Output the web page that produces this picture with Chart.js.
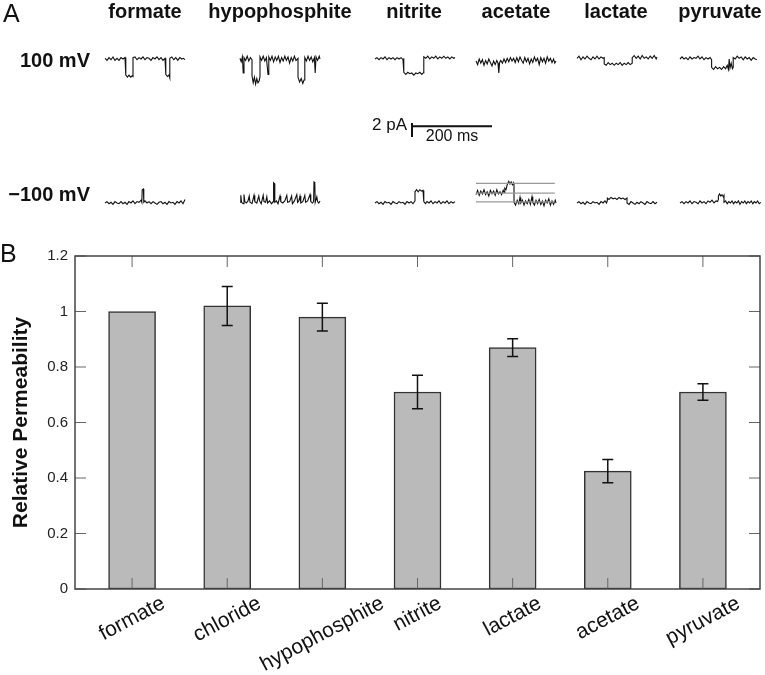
<!DOCTYPE html>
<html>
<head>
<meta charset="utf-8">
<script src="https://cdn.jsdelivr.net/npm/chart.js@4/dist/chart.umd.min.js"></script>
<style>
  body { margin: 0; background: #fff; }
  #wrap { position: relative; width: 765px; height: 675px; font-family: "Liberation Sans", Arial, sans-serif; color: #111; }
  canvas { position: absolute; left: 0; top: 0; }
  .t { position: absolute; line-height: 1; white-space: nowrap; }
  .b { font-weight: bold; }
</style>
</head>
<body>
<div id="wrap">
  <canvas id="permChart" width="765" height="675"></canvas>
  <canvas id="traceChart" width="765" height="230"></canvas>
</div>
<script>
// ---- panel B data ----
const anions = ['formate', 'chloride', 'hypophosphite', 'nitrite', 'lactate', 'acetate', 'pyruvate'];
const permeability = [1.0, 1.02, 0.98, 0.71, 0.87, 0.425, 0.71];
const permError = [0, 0.07, 0.05, 0.06, 0.032, 0.042, 0.03];
const yTicks = [0, 0.2, 0.4, 0.6, 0.8, 1, 1.2];

// ---- panel A data: single-channel traces, [time ms, current pA] ----
const traceNames = ['formate', 'hypophosphite', 'nitrite', 'acetate', 'lactate', 'pyruvate'];
const rowLabels = ['100 mV', '\u2212100 mV'];

const formateUp = [[0,0.1],[5,-0.2],[10,0.2],[15,-0.1],[20,0.3],[25,-0.2],[30,0.1],[35,-0.2],[40,0.2],[45,0],[50,0.2],[52,-0.1],
  [52,-2.3],[56,-2.6],[60,-2.3],[64,-2.6],[68,-2.4],[70,-2.5],
  [70,0.2],[75,0.3],[80,-0.1],[85,0.2],[90,0],[95,0.3],[100,-0.1],[105,0.2],[110,0.1],[115,-0.2],[120,0.2],[125,0],[130,0.3],[135,-0.1],[140,0.2],[145,-0.2],[150,0.1],[152,0],
  [152,-2.2],[156,-2.5],[160,-2.3],[162,-2.7],
  [162,0.1],[167,0.3],[172,-0.1],[177,0.2],[182,-0.2],[187,0.2],[192,0],[196,0.1],[200,-0.1]];
const hypoUp = [[0,0.1],[3,-0.4],[6,0.3],[8,-2.0],[10,0.2],[14,-0.2],[18,0.4],[22,-0.3],[26,0.2],[30,-0.1],
  [30,-2.4],[33,-3.4],[36,-2.6],[39,-3.6],[42,-2.8],[45,-3.4],[48,-3.1],[50,-2.5],
  [50,0.3],[54,-0.2],[58,0.4],[62,-0.3],[66,0.2],[70,-2.2],[72,0.3],[76,-0.2],[80,0.4],[84,-0.4],[88,0.3],[92,-0.2],[96,0.4],[100,-0.5],[104,0.2],[108,-0.3],[112,0.4],[116,-0.2],[120,0.3],[124,-0.6],[128,0.2],[132,-0.3],[136,0.4],[140,-0.2],[145,0.1],
  [145,-2.6],[149,-3.3],[153,-2.8],[157,-3.5],[160,-3.0],[162,-2.2],
  [162,0.2],[166,-0.3],[170,0.4],[174,-0.2],[178,0.3],[182,-0.4],[186,0.2],[188,-2.0],[190,0.3],[194,-0.2],[198,0.4],[200,0]];
const nitriteUp = [[0,0],[5,0.2],[10,-0.1],[15,0.2],[20,0],[25,0.3],[30,-0.1],[35,0.2],[40,0],[45,0.2],[50,-0.1],[55,0.2],[60,0],[65,0.2],[70,-0.1],[72,0.1],
  [72,-1.9],[77,-2.2],[82,-1.9],[87,-2.1],[92,-2.0],[97,-2.3],[102,-2.0],[107,-2.1],[112,-1.9],[117,-2.2],[120,-2.0],[122,-1.5],
  [122,0.3],[127,0.1],[132,0.4],[137,0],[142,0.3],[147,0.1],[152,0.4],[157,0],[162,0.3],[167,0.1],[172,0.4],[177,0.1],[182,0.3],[187,0],[192,0.3],[197,0.1],[200,0.2]];
const acetateUp = [[0,-0.3],[4,-0.8],[8,0],[12,-0.6],[16,-0.1],[20,-0.9],[24,-0.2],[28,-0.7],[32,0],[36,-0.5],[40,-1.0],[44,-0.3],[48,-0.8],[52,-0.2],[55,-0.6],[57,-2.0],[59,-0.5],[62,-0.2],[66,-0.6],[70,0],[74,-0.5],[78,0.1],[82,-0.4],[86,0.2],[90,-0.3],[94,0.1],[98,-0.5],[102,0.2],[106,-0.4],[110,0.3],[114,-0.2],[118,-0.6],[122,0.2],[126,-0.4],[130,0.1],[134,-0.7],[138,0],[142,-0.5],[146,0.3],[150,-0.3],[154,0.1],[158,-0.8],[162,0.2],[166,-0.4],[170,0.1],[174,-0.6],[178,0.3],[182,-0.3],[186,0.1],[190,-0.5],[194,0],[197,-0.6],[200,-0.3]];
const lactateUp = [[0,0.1],[5,0.4],[10,-0.1],[15,0.3],[20,0],[25,0.4],[30,0.1],[35,-0.1],[40,0.3],[45,0],[50,0.4],[55,0],[60,0.3],[65,0.1],[68,0.2],
  [68,-0.7],[73,-0.9],[78,-0.5],[83,-0.8],[88,-0.6],[93,-0.9],[98,-0.6],[103,-0.8],[108,-0.5],[113,-0.9],[118,-0.6],[123,-0.8],[128,-0.5],[133,-0.8],[138,-0.6],
  [138,0.2],[143,0.5],[148,0.1],[153,0.4],[158,0],[163,0.5],[168,0.1],[173,0.3],[178,0],[183,0.4],[188,0.1],[193,0.5],[198,0],[200,0.3]];
const pyruvateUp = [[0,0],[5,0.3],[10,0],[15,0.2],[20,-0.1],[25,0.3],[30,0],[35,0.2],[40,0.1],[45,0.4],[50,0],[55,0.3],[60,-0.1],[65,0.2],[70,0],[75,0.2],[79,-0.1],
  [79,-1.2],[84,-1.5],[89,-1.1],[94,-1.4],[99,-1.2],[104,-1.5],[109,-1.1],[114,-1.4],[118,-0.9],[121,-1.5],[123,0],[125,-1.3],[128,-0.6],[131,-1.4],[133,-1.2],
  [133,0.2],[138,0],[143,0.4],[148,0.1],[153,0.3],[158,-0.1],[163,0.3],[168,0],[173,0.2],[178,-0.2],[183,0.2],[188,0],[192,-0.1]];

const formateDown = [[0,0],[5,0.2],[10,-0.1],[15,0.1],[20,-0.2],[25,0.2],[30,0],[35,-0.1],[40,0.2],[45,-0.1],[50,0.1],[55,-0.2],[60,0.2],[65,0],[70,0.3],[75,-0.1],[80,0.2],[85,0.1],[90,0.4],[92,0.1],[93,1.9],[96,2.0],[97,0.1],[100,0.3],[105,0],[110,0.2],[115,-0.1],[120,0.2],[125,0],[130,-0.2],[135,0.1],[140,0.2],[145,-0.1],[150,0.1],[155,-0.2],[160,0.2],[165,0],[170,0.1],[175,-0.2],[180,0.2],[185,0],[190,0.3],[195,-0.1],[200,0.5]];
const hypoDown = [[0,0.1],[2,1.1],[4,0.1],[8,-0.1],[10,1.2],[12,0.2],[16,0],[20,0.3],[23,1.0],[25,0.1],[30,-0.1],[35,1.1],[37,0.2],[42,0],[47,1.0],[49,0.3],[53,-0.1],[58,1.1],[60,0.2],[64,0.1],[67,0.9],[69,0],[74,0.3],[79,-0.1],[83,0.2],[84,2.9],[86,2.8],[87,0.1],[91,0.3],[95,-0.1],[100,1.0],[102,0.2],[107,0],[112,0.3],[117,1.1],[119,0.1],[124,0.2],[129,1.0],[131,-0.1],[136,0.3],[142,1.2],[144,0.1],[147,0.3],[150,1.0],[152,0],[157,0.2],[162,1.1],[164,0.1],[169,0.3],[175,1.2],[177,0.2],[181,0],[184,0.2],[185,3.0],[187,2.9],[188,0.1],[192,0.9],[194,0.2],[197,0],[200,0.3]];
const nitriteDown = [[0,0],[5,0.2],[10,-0.1],[15,0.1],[20,-0.2],[25,0.2],[30,0],[35,0.1],[40,-0.2],[45,0.2],[50,0],[55,-0.1],[60,0.2],[65,0],[70,0.1],[75,-0.2],[80,0.2],[85,0],[90,0.2],[95,-0.1],[100,0.3],
  [100,1.6],[104,1.9],[108,1.6],[112,1.9],[116,1.7],[120,1.8],[122,1.6],
  [122,0.2],[126,-0.1],[130,0.2],[135,0],[140,0.3],[145,-0.1],[150,0.2],[155,0],[160,0.3],[165,-0.1],[170,0.2],[175,0],[180,0.3],[185,-0.1],[190,0.2],[195,0],[200,0.2]];
const acetateDown = [[0,1.2],[4,1.8],[8,1.1],[12,1.7],[16,1.3],[20,1.9],[24,1.2],[28,1.6],[32,1.0],[36,1.8],[40,1.3],[44,1.7],[48,1.1],[52,1.9],[56,1.3],[60,1.6],[64,1.2],[68,1.8],[70,1.5],[72,2.1],[75,1.9],
  [78,2.6],[82,3.1],[85,2.7],[88,3.0],[91,2.6],[94,2.9],[95,2.7],
  [95,0.1],[99,-0.3],[103,0.4],[107,-0.1],[110,0.8],[112,0],[116,0.4],[120,-0.3],[124,0.3],[128,-0.1],[132,0.5],[136,-0.2],[140,0.9],[142,0.1],[146,-0.3],[150,0.4],[154,-0.1],[158,0.5],[162,-0.2],[166,0.3],[170,-0.4],[174,0.4],[178,0],[182,0.6],[186,-0.3],[190,0.3],[194,-0.2],[198,0.4],[200,0]];
const lactateDown = [[0,0],[5,0.2],[10,-0.1],[15,0.1],[20,-0.2],[25,0.2],[30,0],[35,-0.1],[40,0.2],[45,0],[50,0.1],[55,-0.2],[60,0.2],[65,0],[70,0.3],[74,0],[76,0.4],
  [76,0.7],[80,0.5],[85,0.8],[90,0.6],[95,0.7],[100,0.5],[105,0.8],[110,0.6],[115,0.7],[120,0.5],[125,0.7],
  [125,0],[130,-0.2],[135,0.2],[140,0],[145,-0.2],[150,0.1],[155,-0.1],[160,0.2],[165,0],[170,-0.2],[175,0.2],[180,0],[185,-0.1],[190,0.2],[195,-0.1],[200,0.1]];
const pyruvateDown = [[0,0],[5,0.2],[10,-0.1],[15,0.2],[20,0],[25,0.3],[30,-0.1],[35,0.2],[40,0.1],[45,-0.1],[50,0.3],[55,0],[60,0.2],[65,-0.1],[70,0.3],[75,0.1],[80,0.4],[85,0],[90,0.3],[94,0.2],[96,0.5],
  [96,1.0],[99,1.3],[102,1.0],[105,1.2],[108,0.9],[110,1.1],
  [110,0.1],[114,0.3],[118,-0.1],[122,0.2],[126,0],[130,0.3],[134,-0.1],[138,0.2],[142,0],[146,0.3],[150,-0.2],[154,0.2],[158,0],[162,0.3],[166,-0.1],[170,0.2],[174,0],[178,0.3],[182,-0.1],[186,0.2],[190,0],[194,0.3],[198,-0.1],[202,0.1]];

const tracesUp = [formateUp, hypoUp, nitriteUp, acetateUp, lactateUp, pyruvateUp];
const tracesDown = [formateDown, hypoDown, nitriteDown, acetateDown, lactateDown, pyruvateDown];
const acetateLevels = [0.15, 1.4, 2.8];   // pA, grey reference lines
const acetateLevelSpan = [0, 197];        // ms
const scaleBarPA = 2;
const scaleBarMS = 200;

// ---- panel A layout ----
const PX_PER_MS = 0.4;
const PX_PER_PA = 7;
const colLeft = [105, 240, 375, 476, 577, 680];
const rowBase = [59, 203];
const headerX = [145, 280, 414, 516, 616, 720];

const wrap = document.getElementById('wrap');
function addText(txt, x, baseline, size, opts) {
  const d = document.createElement('div');
  d.className = 't' + (opts.bold ? ' b' : '');
  d.textContent = txt;
  d.style.fontSize = size + 'px';
  d.style.top = (baseline - 0.8465 * size) + 'px';
  if (opts.align === 'center') { d.style.left = x + 'px'; d.style.transform = 'translateX(-50%)'; }
  else if (opts.align === 'right') { d.style.right = (765 - x) + 'px'; }
  else { d.style.left = x + 'px'; }
  wrap.appendChild(d);
}
addText('A', 3, 22, 25, {});
addText('B', 0, 262, 25, {});
traceNames.forEach((n, i) => addText(n, headerX[i], 18, 20, {bold: true, align: 'center'}));
addText(rowLabels[0], 90, 67, 20, {bold: true, align: 'right'});
addText(rowLabels[1], 90, 201, 20, {bold: true, align: 'right'});
addText('2 pA', 407, 130, 17, {align: 'right'});
addText('200 ms', 452, 142, 16, {align: 'center'});

const pt = (col, row, t, i) => ({x: colLeft[col] / PX_PER_MS + t, y: -rowBase[row] / PX_PER_PA + i});
const traceStyle = {borderColor: '#111', borderWidth: 1.1, showLine: true, pointRadius: 0};
const traceSets = [];
tracesUp.forEach((tr, c) => traceSets.push({...traceStyle, data: tr.map(p => pt(c, 0, p[0], p[1]))}));
acetateLevels.forEach(l => traceSets.push({
  data: acetateLevelSpan.map(t => pt(3, 1, t, l)), borderColor: '#999', borderWidth: 1.2, showLine: true, pointRadius: 0
}));
tracesDown.forEach((tr, c) => traceSets.push({...traceStyle, data: tr.map(p => pt(c, 1, p[0], p[1]))}));

// scale bar
const sbX = 412 / PX_PER_MS, sbTop = -123 / PX_PER_PA;
traceSets.push({
  data: [{x: sbX, y: sbTop}, {x: sbX, y: sbTop - scaleBarPA}],
  borderColor: '#111', borderWidth: 2, showLine: true, pointRadius: 0
});
traceSets.push({
  data: [{x: sbX, y: sbTop - 0.45}, {x: sbX + scaleBarMS, y: sbTop - 0.45}],
  borderColor: '#111', borderWidth: 2, showLine: true, pointRadius: 0
});

new Chart(document.getElementById('traceChart'), {
  type: 'scatter',
  data: {datasets: traceSets},
  options: {
    responsive: false,
    animation: false,
    events: [],
    layout: {padding: 0},
    elements: {line: {tension: 0}},
    plugins: {legend: {display: false}, tooltip: {enabled: false}},
    scales: {
      x: {type: 'linear', display: false, min: 0, max: 765 / PX_PER_MS},
      y: {type: 'linear', display: false, min: -230 / PX_PER_PA, max: 0}
    }
  }
});

// ---- panel B ----
const frameAndBars = {
  id: 'frameAndBars',
  afterDatasetsDraw(chart) {
    const {ctx, chartArea: a, scales: {x, y}} = chart;
    ctx.save();
    // error bars
    ctx.strokeStyle = '#111';
    ctx.lineWidth = 1.5;
    permError.forEach((e, i) => {
      if (!e) return;
      const px = x.getPixelForValue(i + 1);
      const t = y.getPixelForValue(permeability[i] + e);
      const b = y.getPixelForValue(permeability[i] - e);
      ctx.beginPath();
      ctx.moveTo(px, t); ctx.lineTo(px, b);
      ctx.moveTo(px - 5.5, t); ctx.lineTo(px + 5.5, t);
      ctx.moveTo(px - 5.5, b); ctx.lineTo(px + 5.5, b);
      ctx.stroke();
    });
    // inward ticks
    ctx.strokeStyle = '#666';
    ctx.lineWidth = 1;
    ctx.beginPath();
    yTicks.forEach(v => {
      const py = y.getPixelForValue(v);
      ctx.moveTo(a.left, py); ctx.lineTo(a.left + 11, py);
      ctx.moveTo(a.right - 11, py); ctx.lineTo(a.right, py);
    });
    anions.forEach((n, i) => {
      const px = x.getPixelForValue(i + 1);
      ctx.moveTo(px, a.bottom); ctx.lineTo(px, a.bottom - 11);
      ctx.moveTo(px, a.top); ctx.lineTo(px, a.top + 11);
    });
    ctx.stroke();
    // frame
    ctx.strokeStyle = '#444';
    ctx.lineWidth = 1.5;
    ctx.strokeRect(a.left, a.top, a.right - a.left, a.bottom - a.top);
    // rotated category labels
    const ang = 28 * Math.PI / 180;
    ctx.fillStyle = '#111';
    ctx.font = '21px "Liberation Sans", Arial, sans-serif';
    ctx.textAlign = 'center';
    ctx.textBaseline = 'middle';
    anions.forEach((n, i) => {
      const px = x.getPixelForValue(i + 1);
      const w = ctx.measureText(n).width;
      const boxH = w * Math.sin(ang) + 16 * Math.cos(ang);
      ctx.save();
      ctx.translate(px, a.bottom + 6 + boxH / 2);
      ctx.rotate(-ang);
      ctx.fillText(n, 0, 0);
      ctx.restore();
    });
    ctx.restore();
  }
};

new Chart(document.getElementById('permChart'), {
  type: 'bar',
  data: {
    datasets: [{
      data: anions.map((n, i) => ({x: i + 1, y: permeability[i]})),
      backgroundColor: '#bababa',
      borderColor: '#333',
      borderWidth: 1.5,
      borderSkipped: false,
      barThickness: 47
    }]
  },
  options: {
    responsive: false,
    animation: false,
    events: [],
    layout: {padding: {top: 256, right: 5, bottom: 86, left: 0}},
    plugins: {legend: {display: false}, tooltip: {enabled: false}},
    scales: {
      x: {
        type: 'linear', display: false, offset: false, min: 0.4, max: 7.6,
        afterBuildTicks: s => { s.ticks = anions.map((n, i) => ({value: i + 1})); }
      },
      y: {
        min: 0, max: 1.2,
        afterFit: s => { s.width = 75; },
        afterBuildTicks: s => { s.ticks = yTicks.map(v => ({value: v})); },
        ticks: {
          font: {size: 15, family: '"Liberation Sans", Arial, sans-serif'}, color: '#222', padding: 7,
          callback: v => String(+v.toFixed(1))
        },
        grid: {display: false, drawTicks: false},
        border: {display: false},
        title: {
          display: true, text: 'Relative Permeability', color: '#111',
          font: {size: 21, weight: 'bold', family: '"Liberation Sans", Arial, sans-serif'},
          padding: {top: 9, bottom: 0}
        }
      }
    }
  },
  plugins: [frameAndBars]
});
</script>
</body>
</html>
